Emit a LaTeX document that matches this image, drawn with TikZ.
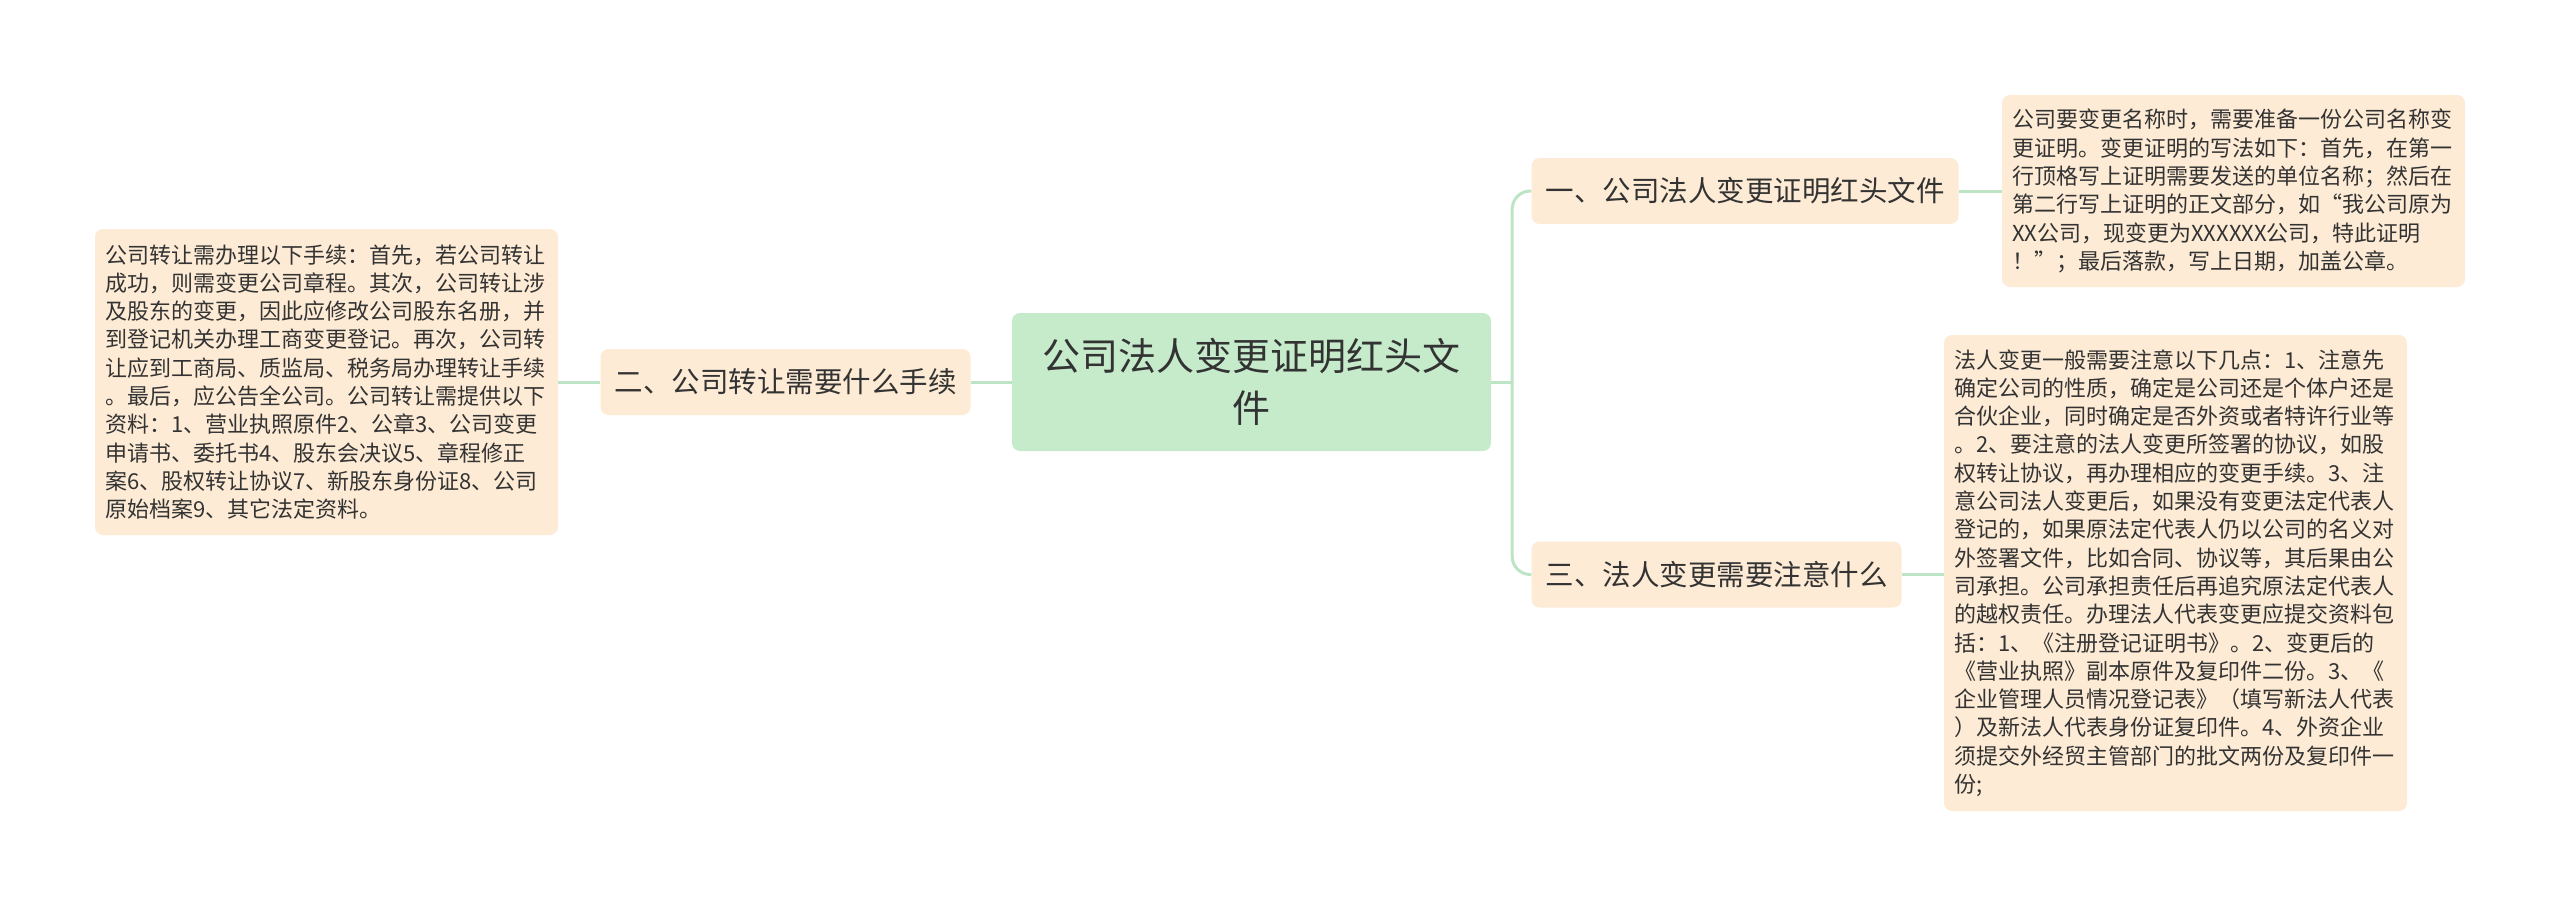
\documentclass[tikz,border=0pt]{standalone}
\usepackage{fontspec}
\setmainfont{Noto Sans CJK SC}
\usetikzlibrary{calc}
\definecolor{peach}{HTML}{FDEBD5}
\definecolor{rootg}{HTML}{C6EBCB}
\definecolor{linkg}{HTML}{BEE4C6}
\definecolor{txt}{HTML}{333333}
\tikzset{
  rootbox/.style={fill=rootg, rounded corners=8pt, text=txt, align=center,
    minimum width=479pt, minimum height=138pt, inner sep=0pt,
    font=\fontsize{38}{52}\selectfont},
  branchbox/.style={fill=peach, rounded corners=8pt, text=txt,
    minimum height=66pt, inner xsep=14pt, inner ysep=0pt,
    font=\fontsize{28.5}{34}\selectfont},
  leafbox/.style={fill=peach, rounded corners=8pt, text=txt, align=left,
    text width=443pt, inner xsep=10pt, inner ysep=0pt,
    font=\fontsize{22}{28.3}\selectfont},
  conn/.style={draw=linkg, line width=3pt}
}
\begin{document}
\begin{tikzpicture}[x=1pt,y=-1pt]
\useasboundingbox (0,0) rectangle (2560,907);
\node[rootbox] (root) at (1251.5,382) {公司法人变更证明红头文\\件};
\node[branchbox] (b2) at (785.5,382) {二、公司转让需要什么手续};
\node[branchbox] (b1) at (1745,191) {一、公司法人变更证明红头文件};
\node[branchbox] (b3) at (1716.5,574.5) {三、法人变更需要注意什么};
\node[leafbox, minimum height=306pt] (l2) at (326.5,382) {公司转让需办理以下手续：首先，若公司转让\\成功，则需变更公司章程。其次，公司转让涉\\及股东的变更，因此应修改公司股东名册，并\\到登记机关办理工商变更登记。再次，公司转\\让应到工商局、质监局、税务局办理转让手续\\。最后，应公告全公司。公司转让需提供以下\\资料：1、营业执照原件2、公章3、公司变更\\申请书、委托书4、股东会决议5、章程修正\\案6、股权转让协议7、新股东身份证8、公司\\原始档案9、其它法定资料。};
\node[leafbox, minimum height=192pt] (l1) at (2233.5,191) {公司要变更名称时，需要准备一份公司名称变\\更证明。变更证明的写法如下：首先，在第一\\行顶格写上证明需要发送的单位名称；然后在\\第二行写上证明的正文部分，如“我公司原为\\XX公司，现变更为XXXXXX公司，特此证明\\！”；最后落款，写上日期，加盖公章。};
\node[leafbox, minimum height=476pt] (l3) at (2175.5,573) {法人变更一般需要注意以下几点：1、注意先\\确定公司的性质，确定是公司还是个体户还是\\合伙企业，同时确定是否外资或者特许行业等\\。2、要注意的法人变更所签署的协议，如股\\权转让协议，再办理相应的变更手续。3、注\\意公司法人变更后，如果没有变更法定代表人\\登记的，如果原法定代表人仍以公司的名义对\\外签署文件，比如合同、协议等，其后果由公\\司承担。公司承担责任后再追究原法定代表人\\的越权责任。办理法人代表变更应提交资料包\\括：1、《注册登记证明书》。2、变更后的\\《营业执照》副本原件及复印件二份。3、《\\企业管理人员情况登记表》（填写新法人代表\\）及新法人代表身份证复印件。4、外资企业\\须提交外经贸主管部门的批文两份及复印件一\\份;};
\coordinate (jr) at ($(root.east)+(21,0)$);
\begin{scope}[on background layer/.style={}]
\draw[conn] (root.east) -- (jr);
\draw[conn, rounded corners=18pt] (jr) |- (b1.west);
\draw[conn, rounded corners=18pt] (jr) |- (b3.west);
\draw[conn] (root.west) -- (b2.east);
\draw[conn] (b2.west) -- (l2.east);
\draw[conn] (b1.east) -- (l1.west);
\draw[conn] (b3.east) -- (b3.east -| l3.west);
\end{scope}
\end{tikzpicture}
\end{document}
